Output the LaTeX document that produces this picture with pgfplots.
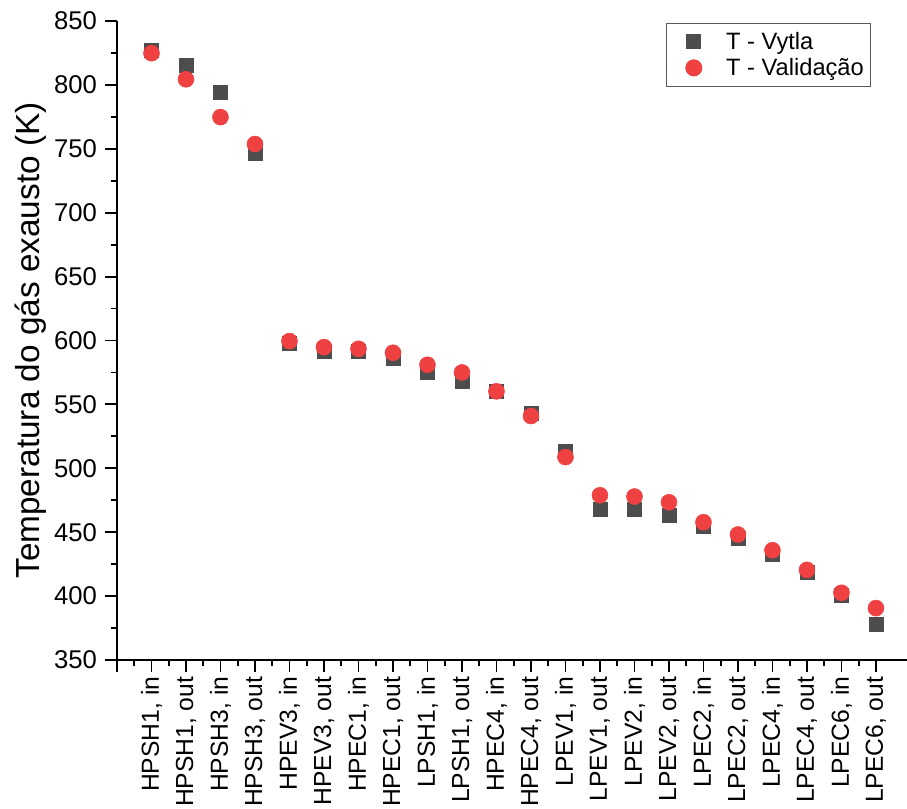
\documentclass[border=0pt]{standalone}
\usepackage{fontspec}
\setmainfont{Liberation Sans}
\usepackage{pgfplots}
\usepackage{pgfplotstable}
\pgfplotsset{compat=1.18}
\definecolor{sqgray}{RGB}{77,77,77}
\definecolor{cred}{RGB}{239,65,65}
\pgfplotsset{myleg/.style={legend image code/.code={\path[draw=none] (0,0) -- (39.75pt,0); \draw[##1, only marks] plot coordinates {(17.5pt,0pt)};}}}

\pgfplotstableread{
x vytla valid
0 827.0 824.8
1 815.6 804.4
2 794.0 774.8
3 746.6 753.7
4 598.2 599.5
5 591.4 594.8
6 591.6 593.5
7 586.0 590.4
8 575.0 581.0
9 568.2 575.0
10 560.0 560.2
11 542.7 540.9
12 513.3 508.8
13 468.0 478.9
14 468.0 477.9
15 463.5 473.4
16 454.9 457.8
17 445.0 448.2
18 432.8 435.9
19 418.5 420.5
20 400.3 402.6
21 377.6 390.6
}\datatable

\begin{document}
\begin{tikzpicture}
\begin{axis}[
  scale only axis,
  width=592.5pt, height=479.25pt,
  at={(0,0)}, anchor=south west,
  xmin=-1, xmax=21.9, ymin=350, ymax=850,
  axis lines=left,
  axis line style={line width=1.5pt, -},
  tick align=outside,
  xtick={-1,0,...,21},
  xticklabels={{},{HPSH1, in},{HPSH1, out},{HPSH3, in},{HPSH3, out},{HPEV3, in},{HPEV3, out},{HPEC1, in},{HPEC1, out},{LPSH1, in},{LPSH1, out},{HPEC4, in},{HPEC4, out},{LPEV1, in},{LPEV1, out},{LPEV2, in},{LPEV2, out},{LPEC2, in},{LPEC2, out},{LPEC4, in},{LPEC4, out},{LPEC6, in},{LPEC6, out}},
  ytick={350,400,...,850},
  minor x tick num=1, minor y tick num=1,
  major tick length=9pt, minor tick length=4.5pt,
  every tick/.style={black, line width=1.4pt},
  yticklabel style={font=\fontsize{19.25}{22}\selectfont, xshift=-2.5pt},
  xticklabel style={font=\fontsize{18.5}{21}\selectfont, rotate=90, anchor=east},
  /pgf/number format/assume math mode=true,
  ylabel={Temperatura do gás exausto (K)},
  ylabel style={font=\fontsize{25}{29}\selectfont, at={(ticklabel cs:0.5)}, yshift=-1pt},
  legend style={at={(0.9544,0.9969)}, anchor=north east, draw=black!65, line width=0.75pt,
    font=\fontsize{17.75}{21}\selectfont, row sep=1.25pt, inner ysep=4.5pt},
  legend cell align=left,
]
\addplot[only marks, mark=square*, mark size=5.25pt, color=sqgray, myleg]
  table[x=x, y=vytla] {\datatable};
\addlegendentry{T - Vytla}
\addplot[only marks, mark=*, mark size=6pt, color=cred, myleg]
  table[x=x, y=valid] {\datatable};
\addlegendentry{T - Validação}
\end{axis}
\pgfresetboundingbox
\path[use as bounding box] (-87.75pt,-111.75pt) rectangle (592.5pt,495pt);
\end{tikzpicture}
\end{document}
